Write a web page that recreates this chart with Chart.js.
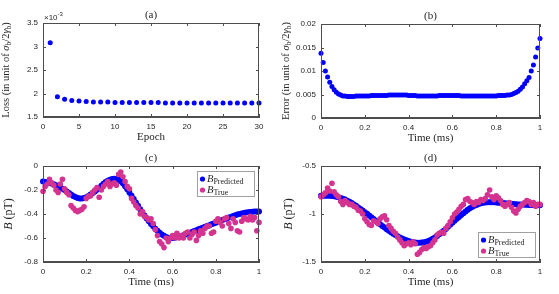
<!DOCTYPE html>
<html>
<head>
<meta charset="utf-8">
<script src="https://cdn.jsdelivr.net/npm/chart.js@4/dist/chart.umd.min.js"></script>
<style>
  html, body { margin: 0; padding: 0; background: #fff; }
  #page { position: relative; width: 559px; height: 294px; overflow: hidden; }
  canvas { position: absolute; }
  .frame { position: absolute; box-sizing: border-box; border: 1px solid #4d4d4d; pointer-events: none; }
</style>
</head>
<body>
<div id="page">
  <canvas id="chartA" width="280" height="145" style="left:0;top:0"></canvas>
  <canvas id="chartB" width="279" height="145" style="left:280px;top:0"></canvas>
  <canvas id="chartC" width="280" height="149" style="left:0;top:145px"></canvas>
  <canvas id="chartD" width="279" height="149" style="left:280px;top:145px"></canvas>
</div>
<script>
"use strict";

// (a) training loss, in units of 1e-3
const EPOCHS = [1, 2, 3, 4, 5, 6, 7, 8, 9, 10, 11, 12, 13, 14, 15, 16, 17, 18, 19, 20, 21, 22, 23, 24, 25, 26, 27, 28, 29, 30];
const LOSS_E3 = [3.08, 1.93, 1.88, 1.85, 1.84, 1.83, 1.82, 1.82, 1.82, 1.81, 1.81, 1.81, 1.81, 1.81, 1.81, 1.81,
  1.80, 1.80, 1.80, 1.80, 1.80, 1.80, 1.80, 1.80, 1.80, 1.80, 1.80, 1.80, 1.80, 1.80];

// shared time axis (ms)
const TIME = [0, 0.01, 0.02, 0.03, 0.04, 0.05, 0.06, 0.07, 0.08, 0.09,
  0.10, 0.11, 0.12, 0.13, 0.14, 0.15, 0.16, 0.17, 0.18, 0.19,
  0.20, 0.21, 0.22, 0.23, 0.24, 0.25, 0.26, 0.27, 0.28, 0.29,
  0.30, 0.31, 0.32, 0.33, 0.34, 0.35, 0.36, 0.37, 0.38, 0.39,
  0.40, 0.41, 0.42, 0.43, 0.44, 0.45, 0.46, 0.47, 0.48, 0.49,
  0.50, 0.51, 0.52, 0.53, 0.54, 0.55, 0.56, 0.57, 0.58, 0.59,
  0.60, 0.61, 0.62, 0.63, 0.64, 0.65, 0.66, 0.67, 0.68, 0.69,
  0.70, 0.71, 0.72, 0.73, 0.74, 0.75, 0.76, 0.77, 0.78, 0.79,
  0.80, 0.81, 0.82, 0.83, 0.84, 0.85, 0.86, 0.87, 0.88, 0.89,
  0.90, 0.91, 0.92, 0.93, 0.94, 0.95, 0.96, 0.97, 0.98, 0.99, 1.00];

// (b) error
const ERROR = [0.0138, 0.0118, 0.0100, 0.0087, 0.0076, 0.0067, 0.0060, 0.0055, 0.0051, 0.0049,
  0.0047, 0.0047, 0.0046, 0.0046, 0.0046, 0.0046, 0.0047, 0.0047, 0.0047, 0.0047,
  0.0047, 0.0047, 0.0047, 0.0048, 0.0048, 0.0048, 0.0048, 0.0048, 0.0048, 0.0048,
  0.0048, 0.0049, 0.0049, 0.0049, 0.0049, 0.0049, 0.0049, 0.0049, 0.0049, 0.0049,
  0.0048, 0.0048, 0.0048, 0.0048, 0.0047, 0.0047, 0.0047, 0.0047, 0.0047, 0.0047,
  0.0047, 0.0047, 0.0047, 0.0047, 0.0048, 0.0048, 0.0048, 0.0048, 0.0048, 0.0048,
  0.0048, 0.0048, 0.0048, 0.0048, 0.0047, 0.0047, 0.0047, 0.0047, 0.0047, 0.0047,
  0.0047, 0.0047, 0.0047, 0.0047, 0.0047, 0.0047, 0.0047, 0.0047, 0.0047, 0.0047,
  0.0047, 0.0048, 0.0048, 0.0048, 0.0048, 0.0049, 0.0049, 0.0050, 0.0052, 0.0054,
  0.0057, 0.0061, 0.0066, 0.0073, 0.0079, 0.0086, 0.0100, 0.0113, 0.0130, 0.0149, 0.0169];

// (c) field, pT
const PRED_C = [-0.130, -0.133, -0.137, -0.141, -0.146, -0.152, -0.160, -0.170, -0.180, -0.190,
  -0.200, -0.212, -0.225, -0.238, -0.250, -0.259, -0.266, -0.270, -0.270, -0.267,
  -0.260, -0.250, -0.238, -0.225, -0.212, -0.198, -0.183, -0.165, -0.148, -0.133,
  -0.122, -0.114, -0.108, -0.106, -0.108, -0.115, -0.127, -0.145, -0.168, -0.193,
  -0.220, -0.248, -0.276, -0.304, -0.332, -0.360, -0.387, -0.413, -0.438, -0.461,
  -0.483, -0.503, -0.522, -0.540, -0.556, -0.570, -0.582, -0.591, -0.597, -0.600,
  -0.600, -0.598, -0.594, -0.589, -0.583, -0.577, -0.570, -0.563, -0.556, -0.549,
  -0.542, -0.535, -0.528, -0.521, -0.514, -0.507, -0.500, -0.493, -0.486, -0.479,
  -0.472, -0.465, -0.458, -0.451, -0.444, -0.437, -0.430, -0.424, -0.417, -0.411,
  -0.405, -0.400, -0.395, -0.391, -0.388, -0.385, -0.383, -0.381, -0.380, -0.380, -0.380];
const TRUE_C = [-0.21, -0.17, -0.15, -0.11, -0.14, -0.16, -0.20, -0.22, -0.15, -0.11,
  -0.19, -0.22, -0.24, -0.33, -0.35, -0.37, -0.38, -0.37, -0.36, -0.34,
  -0.27, -0.25, -0.25, -0.22, -0.20, -0.18, -0.26, -0.20, -0.17, -0.15,
  -0.13, -0.17, -0.15, -0.14, -0.16, -0.07, -0.05, -0.09, -0.13, -0.17,
  -0.19, -0.27, -0.30, -0.33, -0.35, -0.40, -0.38, -0.42, -0.43, -0.45,
  -0.44, -0.48, -0.53, -0.58, -0.63, -0.65, -0.68, -0.60, -0.63, -0.60,
  -0.58, -0.60, -0.56, -0.60, -0.58, -0.60, -0.56, -0.55, -0.60, -0.57,
  -0.55, -0.62, -0.58, -0.54, -0.56, -0.52, -0.50, -0.50, -0.56, -0.55,
  -0.46, -0.44, -0.47, -0.50, -0.44, -0.43, -0.48, -0.52, -0.44, -0.47,
  -0.54, -0.55, -0.46, -0.43, -0.44, -0.45, -0.42, -0.45, -0.43, -0.54, -0.47];

// (d) field, pT
const PRED_D = [-0.810, -0.810, -0.810, -0.810, -0.811, -0.813, -0.816, -0.820, -0.826, -0.833,
  -0.841, -0.850, -0.861, -0.873, -0.886, -0.900, -0.915, -0.931, -0.947, -0.964,
  -0.981, -0.998, -1.016, -1.034, -1.052, -1.070, -1.088, -1.106, -1.124, -1.141,
  -1.158, -1.174, -1.190, -1.205, -1.219, -1.232, -1.244, -1.255, -1.265, -1.274,
  -1.282, -1.289, -1.294, -1.298, -1.300, -1.300, -1.298, -1.294, -1.288, -1.280,
  -1.270, -1.258, -1.244, -1.229, -1.212, -1.194, -1.175, -1.155, -1.134, -1.113,
  -1.092, -1.071, -1.050, -1.030, -1.010, -0.991, -0.973, -0.956, -0.941, -0.927,
  -0.915, -0.905, -0.896, -0.889, -0.884, -0.880, -0.878, -0.877, -0.877, -0.878,
  -0.880, -0.882, -0.884, -0.886, -0.888, -0.890, -0.892, -0.894, -0.896, -0.898,
  -0.900, -0.901, -0.902, -0.903, -0.904, -0.905, -0.906, -0.907, -0.908, -0.909, -0.910];
const TRUE_D = [-0.82, -0.80, -0.78, -0.73, -0.76, -0.68, -0.77, -0.80, -0.82, -0.87,
  -0.90, -0.86, -0.88, -0.90, -0.90, -0.92, -0.93, -0.96, -0.97, -1.00,
  -1.05, -1.08, -1.11, -1.12, -1.07, -1.08, -1.10, -1.05, -1.03, -1.02,
  -1.06, -1.12, -1.15, -1.18, -1.20, -1.24, -1.27, -1.30, -1.33, -1.31,
  -1.30, -1.32, -1.29, -1.31, -1.42, -1.40, -1.37, -1.35, -1.36, -1.34,
  -1.33, -1.30, -1.27, -1.22, -1.20, -1.19, -1.20, -1.15, -1.12, -1.08,
  -1.04, -1.00, -0.98, -0.95, -0.92, -0.90, -0.85, -0.84, -0.87, -0.88,
  -0.90, -0.87, -0.88, -0.85, -0.86, -0.84, -0.80, -0.75, -0.82, -0.85,
  -0.81, -0.83, -0.86, -0.90, -0.92, -0.90, -0.88, -0.93, -0.97, -0.99,
  -0.95, -0.92, -0.90, -0.88, -0.86, -0.87, -0.90, -0.88, -0.92, -0.90, -0.90];

const BLUE = "#0000ff";
const MAGENTA = "#d4338f";
const AXIS_COLOR = "#4d4d4d";
const TEXT_COLOR = "#262626";
const SERIF = '"Liberation Serif", "DejaVu Serif", serif';
const SANS = '"Liberation Sans", Arial, sans-serif';

function serif(size, style = "") {
  return `${style} ${size}px ${SERIF}`;
}

function pairs(xs, ys) {
  return xs.map((x, i) => ({ x, y: ys[i] }));
}

function fmt(v) {
  return String(Number(v.toFixed(4)));
}

function richWidth(ctx, parts) {
  let w = 0;
  for (const p of parts) {
    ctx.font = p.font;
    w += ctx.measureText(p.t).width;
  }
  return w;
}

function drawRich(ctx, parts, x, y, align) {
  const w = richWidth(ctx, parts);
  let cx = align === "left" ? x : x - w / 2;
  ctx.textBaseline = "alphabetic";
  ctx.textAlign = "left";
  ctx.fillStyle = TEXT_COLOR;
  for (const p of parts) {
    ctx.font = p.font;
    ctx.fillText(p.t, cx, y + (p.dy || 0));
    cx += ctx.measureText(p.t).width;
  }
}

function sigmaLabel(word) {
  return [
    { t: word + " (in unit of ", font: serif(10.5) },
    { t: "σ", font: serif(10.5, "italic") },
    { t: "b", font: serif(7.5), dy: 2 },
    { t: "/2", font: serif(10.5) },
    { t: "γ", font: serif(10.5, "italic") },
    { t: "b", font: serif(7.5), dy: 2 },
    { t: ")", font: serif(10.5) }
  ];
}

const B_LABEL = [
  { t: "B", font: serif(12, "italic") },
  { t: " (pT)", font: serif(12) }
];

// short inward tick marks on all four sides
function drawInwardTicks(chart) {
  const { ctx, chartArea: a, scales } = chart;
  const len = 3;
  ctx.save();
  ctx.fillStyle = AXIS_COLOR;
  for (const tk of scales.x.ticks) {
    const px = Math.round(scales.x.getPixelForValue(tk.value));
    ctx.fillRect(px, a.bottom - len, 1, len);
    ctx.fillRect(px, a.top, 1, len);
  }
  for (const tk of scales.y.ticks) {
    const py = Math.round(scales.y.getPixelForValue(tk.value));
    ctx.fillRect(a.left, py, len, 1);
    ctx.fillRect(a.right - len, py, len, 1);
  }
  ctx.restore();
}

function drawLegend(ctx, a, where) {
  const w = 58, h = 26;
  const x0 = Math.round(a.right - w - 4);
  const y0 = Math.round(where === "top" ? a.top + 5 : a.bottom - h - 4);
  ctx.fillStyle = "#fff";
  ctx.fillRect(x0, y0, w, h);
  ctx.strokeStyle = "#a0a0a0";
  ctx.lineWidth = 1;
  ctx.strokeRect(x0 + 0.5, y0 + 0.5, w - 1, h - 1);
  const rows = [
    { color: BLUE, sub: "Predicted", y: y0 + 8 },
    { color: MAGENTA, sub: "True", y: y0 + 19 }
  ];
  for (const row of rows) {
    ctx.fillStyle = row.color;
    ctx.beginPath();
    ctx.arc(x0 + 5.5, row.y, 2.6, 0, Math.PI * 2);
    ctx.fill();
    drawRich(ctx, [
      { t: "B", font: serif(10.5, "italic") },
      { t: row.sub, font: serif(8), dy: 2 }
    ], x0 + 10, row.y + 3, "left");
  }
}

// ticks, titles, axis labels and legend
const decorPlugin = {
  id: "decor",
  afterDraw(chart) {
    const o = chart.options.plugins.decor;
    const { ctx, chartArea: a } = chart;
    const cx = (a.left + a.right) / 2;
    const cy = (a.top + a.bottom) / 2;
    drawInwardTicks(chart);
    ctx.save();
    drawRich(ctx, [{ t: o.title, font: serif(11) }], cx, a.top - 5);
    drawRich(ctx, [{ t: o.xLabel, font: serif(11) }], cx, a.bottom + 23);
    ctx.save();
    ctx.translate(o.yLabelX, cy);
    ctx.rotate(-Math.PI / 2);
    drawRich(ctx, o.yLabel, 0, 0);
    ctx.restore();
    if (o.exponent) {
      drawRich(ctx, [
        { t: "×10", font: `8px ${SANS}` },
        { t: "-3", font: `6px ${SANS}`, dy: -4 }
      ], a.left + 1, a.top - 3, "left");
    }
    if (o.legend) drawLegend(ctx, a, o.legend);
    ctx.restore();
  }
};

// box outline over the plot area, placed from the chart's own layout
function addFrame(chart, canvasEl) {
  const a = chart.chartArea;
  const box = document.createElement("div");
  box.className = "frame";
  box.style.left = (canvasEl.offsetLeft + Math.round(a.left)) + "px";
  box.style.top = (canvasEl.offsetTop + Math.round(a.top)) + "px";
  box.style.width = Math.round(a.right - a.left) + "px";
  box.style.height = Math.round(a.bottom - a.top) + "px";
  document.getElementById("page").appendChild(box);
}

function makePanel(id, cfg) {
  const datasets = cfg.series.map((s, i) => ({
    data: s.data,
    backgroundColor: s.color,
    borderWidth: 0,
    pointRadius: s.radius,
    pointHoverRadius: s.radius,
    order: i,
    clip: false
  }));
  const tickFont = { family: SANS, size: 8 };
  const noGrid = { display: false, drawTicks: false };
  const border = { display: true, color: AXIS_COLOR, width: 1 };
  const canvasEl = document.getElementById(id);
  const chart = new Chart(canvasEl, {
    type: "scatter",
    data: { datasets },
    options: {
      responsive: false,
      animation: false,
      events: [],
      layout: { padding: { left: 0, top: cfg.top, right: cfg.right, bottom: 0 } },
      scales: {
        x: {
          type: "linear",
          min: cfg.x.min, max: cfg.x.max,
          afterFit: (s) => { s.height = cfg.bottom; },
          ticks: { stepSize: cfg.x.step, padding: 5, color: TEXT_COLOR, font: tickFont, maxRotation: 0, callback: (v) => fmt(v) },
          grid: noGrid,
          border
        },
        y: {
          type: "linear",
          min: cfg.y.min, max: cfg.y.max,
          afterFit: (s) => { s.width = cfg.left; },
          ticks: { stepSize: cfg.y.step, padding: 5, color: TEXT_COLOR, font: tickFont, callback: (v) => fmt(v) },
          grid: noGrid,
          border
        }
      },
      plugins: {
        legend: { display: false },
        tooltip: { enabled: false },
        decor: cfg.texts
      }
    },
    plugins: [decorPlugin]
  });
  addFrame(chart, canvasEl);
  return chart;
}

makePanel("chartA", {
  left: 43, top: 23, right: 21, bottom: 28,
  x: { min: 0, max: 30, step: 5 },
  y: { min: 1.5, max: 3.5, step: 0.5 },
  series: [{ data: pairs(EPOCHS, LOSS_E3), color: BLUE, radius: 2.5 }],
  texts: { title: "(a)", xLabel: "Epoch", yLabel: sigmaLabel("Loss"), yLabelX: 9, exponent: true }
});

makePanel("chartB", {
  left: 41, top: 24, right: 19, bottom: 27,
  x: { min: 0, max: 1, step: 0.2 },
  y: { min: 0, max: 0.02, step: 0.005 },
  series: [{ data: pairs(TIME, ERROR), color: BLUE, radius: 2.5 }],
  texts: { title: "(b)", xLabel: "Time (ms)", yLabel: sigmaLabel("Error"), yLabelX: 9 }
});

makePanel("chartC", {
  left: 43, top: 21, right: 21, bottom: 32,
  x: { min: 0, max: 1, step: 0.2 },
  y: { min: -0.8, max: 0, step: 0.2 },
  series: [
    { data: pairs(TIME, TRUE_C), color: MAGENTA, radius: 2.8 },
    { data: pairs(TIME, PRED_C), color: BLUE, radius: 3 }
  ],
  texts: { title: "(c)", xLabel: "Time (ms)", yLabel: B_LABEL, yLabelX: 12, legend: "top" }
});

makePanel("chartD", {
  left: 41, top: 21, right: 19, bottom: 32,
  x: { min: 0, max: 1, step: 0.2 },
  y: { min: -1.5, max: -0.5, step: 0.5 },
  series: [
    { data: pairs(TIME, TRUE_D), color: MAGENTA, radius: 2.8 },
    { data: pairs(TIME, PRED_D), color: BLUE, radius: 3 }
  ],
  texts: { title: "(d)", xLabel: "Time (ms)", yLabel: B_LABEL, yLabelX: 12, legend: "bottom" }
});
</script>
</body>
</html>
